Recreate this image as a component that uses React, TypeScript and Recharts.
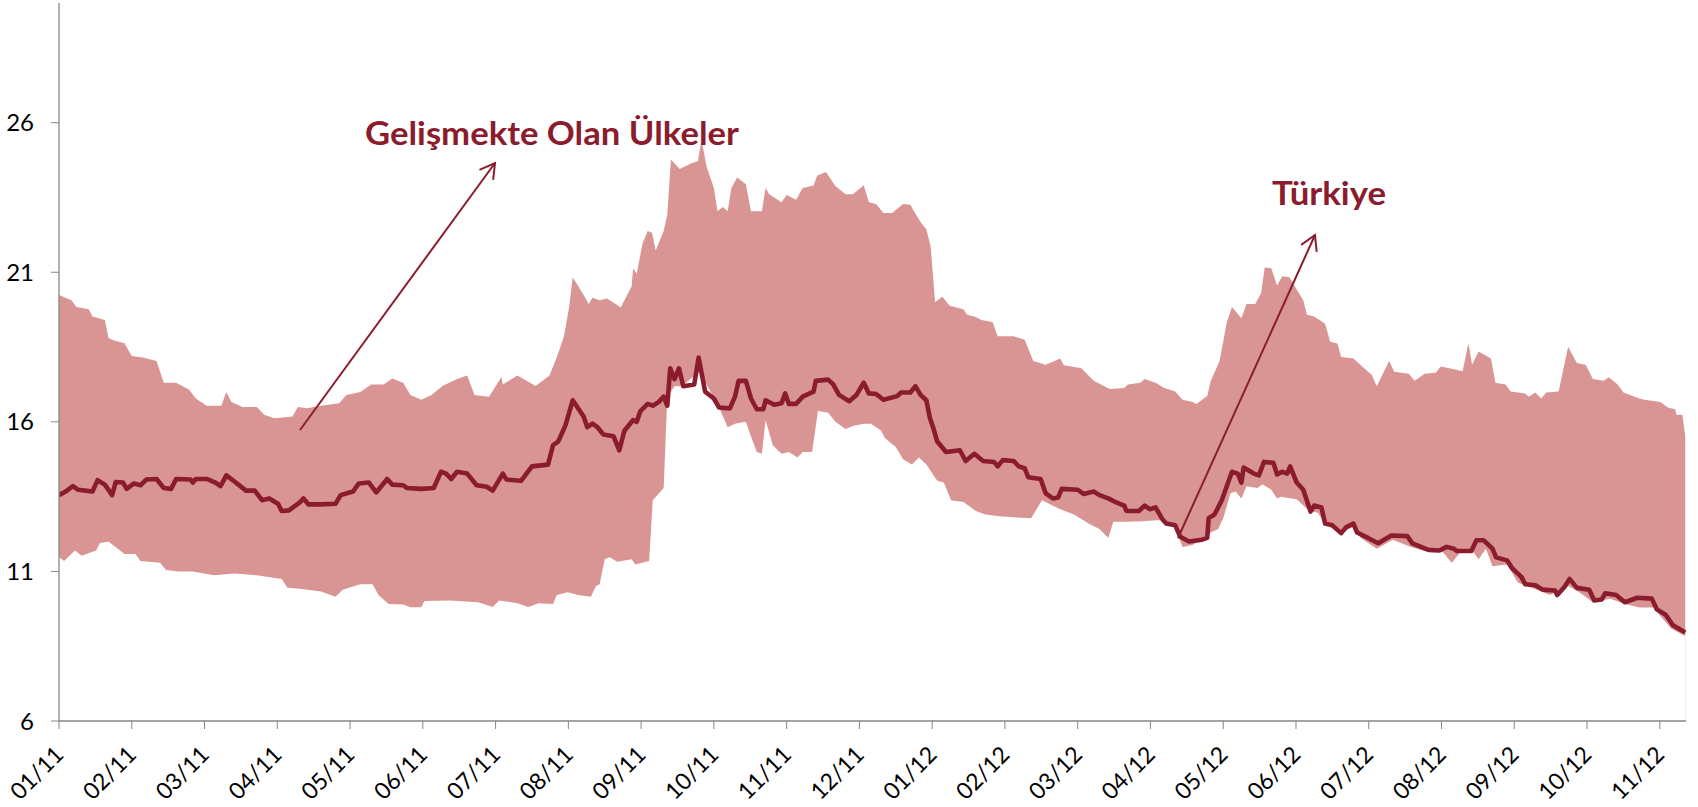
import React from 'react';
import { ComposedChart, Area, Line, XAxis, YAxis } from 'recharts';

const monthLabels = ['01/11','02/11','03/11','04/11','05/11','06/11','07/11','08/11','09/11','10/11','11/11','12/11','01/12','02/12','03/12','04/12','05/12','06/12','07/12','08/12','09/12','10/12','11/12'];
const monthTicks = monthLabels.map((_, i) => i);
const yTicks = [6, 11, 16, 21, 26];

// x = position in months since 01/11, value = yield (%)
const upperEdge: [number, number][] = [
  [0.00,20.24],[0.17,20.06],[0.24,19.84],[0.41,19.76],[0.46,19.52],[0.63,19.40],[0.68,18.80],[0.76,18.72],[0.90,18.63],[1.00,18.20],
  [1.15,18.15],[1.34,18.03],[1.44,17.31],[1.61,17.31],[1.79,17.07],[1.88,16.78],[2.03,16.54],[2.23,16.54],[2.30,17.00],[2.37,16.66],
  [2.52,16.50],[2.72,16.50],[2.82,16.24],[2.96,16.12],[3.21,16.18],[3.28,16.50],[3.41,16.45],[3.60,16.54],[3.85,16.62],[3.95,16.90],
  [4.14,17.00],[4.29,17.25],[4.46,17.25],[4.58,17.45],[4.73,17.31],[4.83,16.90],[4.98,16.74],[5.12,16.90],[5.27,17.20],[5.47,17.43],
  [5.61,17.55],[5.71,16.90],[5.91,16.84],[6.08,17.50],[6.10,17.25],[6.30,17.55],[6.55,17.20],[6.74,17.55],[6.84,18.15],[6.94,18.86],
  [7.01,19.82],[7.06,20.83],[7.21,20.24],[7.28,19.94],[7.33,20.15],[7.43,20.06],[7.53,20.12],[7.65,19.94],[7.72,19.82],[7.87,20.53],
  [7.89,21.13],[7.94,20.95],[8.02,21.97],[8.09,22.38],[8.15,22.32],[8.20,21.73],[8.31,22.38],[8.36,22.92],[8.41,24.77],[8.53,24.45],
  [8.70,24.65],[8.78,24.71],[8.83,25.43],[8.90,24.53],[9.00,23.82],[9.05,23.04],[9.12,23.18],[9.19,23.04],[9.24,23.82],[9.32,24.17],
  [9.44,23.94],[9.51,23.04],[9.66,23.04],[9.71,23.82],[9.76,23.61],[9.93,23.34],[10.00,23.58],[10.13,23.42],[10.22,23.82],[10.37,23.90],
  [10.42,24.23],[10.54,24.35],[10.67,23.88],[10.81,23.61],[10.91,23.61],[11.06,23.91],[11.13,23.34],[11.23,23.28],[11.33,22.98],[11.45,22.98],
  [11.60,23.28],[11.70,23.26],[11.75,23.04],[11.84,22.68],[11.92,22.44],[11.98,21.85],[12.04,20.00],[12.14,20.18],[12.24,19.88],[12.43,19.76],
  [12.48,19.58],[12.58,19.52],[12.68,19.40],[12.83,19.34],[12.90,18.86],[13.12,18.86],[13.27,18.74],[13.39,18.03],[13.56,17.91],[13.76,18.12],
  [13.81,17.89],[14.05,17.79],[14.22,17.37],[14.44,17.10],[14.64,17.13],[14.69,17.25],[14.86,17.31],[14.92,17.43],[15.07,17.31],[15.19,17.13],
  [15.34,17.01],[15.44,16.74],[15.58,16.66],[15.63,16.60],[15.78,16.86],[15.83,17.37],[15.95,18.03],[16.05,19.34],[16.12,19.84],[16.25,19.46],
  [16.32,19.94],[16.44,19.94],[16.52,20.30],[16.57,21.16],[16.66,21.13],[16.74,20.56],[16.81,20.87],[16.91,20.83],[17.01,20.42],[17.10,20.06],
  [17.15,19.58],[17.25,19.52],[17.40,19.28],[17.47,18.68],[17.57,18.62],[17.62,18.17],[17.79,18.12],[17.91,17.85],[18.04,17.57],[18.11,17.19],
  [18.28,18.03],[18.35,17.67],[18.55,17.61],[18.63,17.37],[18.77,17.61],[18.92,17.64],[18.99,17.85],[19.17,17.76],[19.29,17.69],[19.37,18.63],
  [19.42,17.91],[19.51,18.35],[19.68,18.12],[19.74,17.31],[19.88,17.25],[19.95,17.01],[20.15,16.95],[20.20,16.84],[20.29,16.98],[20.37,16.78],
  [20.44,16.98],[20.61,17.01],[20.74,18.51],[20.86,17.97],[20.98,17.91],[21.08,17.43],[21.23,17.37],[21.30,17.49],[21.42,17.25],[21.50,16.98],
  [21.72,16.78],[21.79,16.74],[22.01,16.66],[22.11,16.48],[22.21,16.42],[22.23,16.24],[22.31,16.24],[22.35,15.52]
];

const lowerEdge: [number, number][] = [
  [0.00,11.47],[0.07,11.35],[0.22,11.70],[0.31,11.52],[0.51,11.70],[0.56,11.94],[0.68,12.00],[0.90,11.58],[1.05,11.58],[1.12,11.35],
  [1.39,11.29],[1.47,11.05],[1.64,11.00],[1.84,11.00],[2.13,10.87],[2.42,10.93],[2.72,10.87],[3.06,10.75],[3.14,10.45],[3.31,10.42],
  [3.60,10.33],[3.80,10.15],[3.90,10.39],[4.14,10.57],[4.31,10.57],[4.39,10.21],[4.53,9.91],[4.73,9.89],[4.83,9.80],[4.98,9.80],
  [5.02,10.01],[5.37,10.03],[5.76,9.97],[5.96,9.81],[6.05,10.03],[6.30,9.94],[6.45,9.81],[6.59,9.94],[6.79,9.91],[6.84,10.21],
  [6.99,10.30],[7.13,10.21],[7.31,10.15],[7.38,10.51],[7.43,10.57],[7.50,11.41],[7.57,11.47],[7.67,11.32],[7.87,11.41],[7.92,11.23],
  [8.11,11.35],[8.16,13.38],[8.31,13.79],[8.36,16.84],[8.46,17.19],[8.56,17.19],[8.80,17.67],[9.05,16.60],[9.19,15.82],[9.29,15.94],
  [9.44,16.00],[9.49,15.64],[9.59,14.99],[9.66,14.93],[9.71,16.06],[9.81,15.22],[9.93,14.93],[10.03,14.99],[10.15,14.81],[10.22,14.99],
  [10.35,14.99],[10.43,16.36],[10.57,16.30],[10.67,16.00],[10.81,15.76],[10.91,15.86],[11.06,15.94],[11.16,15.94],[11.30,15.70],[11.35,15.46],
  [11.50,15.16],[11.60,14.75],[11.72,14.57],[11.82,14.81],[11.92,14.57],[12.07,14.03],[12.16,13.97],[12.26,13.38],[12.43,13.32],[12.60,13.02],
  [12.73,12.90],[12.92,12.84],[13.12,12.81],[13.36,12.78],[13.51,13.38],[13.76,13.08],[13.95,12.90],[14.15,12.60],[14.30,12.42],[14.42,12.12],
  [14.49,12.66],[14.69,12.66],[14.89,12.68],[15.14,12.72],[15.34,12.48],[15.44,11.82],[15.58,11.88],[15.78,12.24],[15.93,12.42],[16.00,12.78],
  [16.10,13.61],[16.17,13.67],[16.25,13.44],[16.32,13.85],[16.47,13.79],[16.54,13.91],[16.66,13.73],[16.74,13.44],[16.79,13.50],[17.01,13.41],
  [17.13,13.14],[17.20,13.02],[17.30,12.96],[17.40,12.60],[17.59,12.30],[17.79,12.48],[17.89,12.12],[18.11,11.76],[18.33,12.06],[18.58,11.82],
  [18.77,11.68],[19.02,11.64],[19.14,11.29],[19.26,11.64],[19.44,11.64],[19.51,11.41],[19.61,11.76],[19.70,11.17],[19.90,11.23],[20.05,10.63],
  [20.24,10.45],[20.49,10.21],[20.74,10.51],[20.88,10.33],[21.08,9.97],[21.32,10.09],[21.52,9.91],[21.72,9.79],[21.91,9.79],[22.01,9.50],
  [22.16,9.08],[22.35,8.84]
];

const turkey: [number, number][] = [
  [0.00,13.55],[0.09,13.67],[0.19,13.85],[0.26,13.73],[0.46,13.67],[0.53,14.05],[0.63,13.90],[0.73,13.55],[0.78,13.99],[0.88,13.97],
  [0.93,13.76],[1.03,13.94],[1.12,13.88],[1.20,14.07],[1.34,14.09],[1.44,13.79],[1.54,13.76],[1.61,14.09],[1.81,14.07],[1.84,13.97],
  [1.88,14.09],[2.03,14.09],[2.15,13.97],[2.22,13.85],[2.30,14.21],[2.42,13.99],[2.57,13.70],[2.69,13.70],[2.79,13.38],[2.89,13.44],
  [3.01,13.26],[3.06,13.02],[3.16,13.04],[3.31,13.31],[3.36,13.44],[3.43,13.24],[3.60,13.24],[3.80,13.26],[3.87,13.55],[4.04,13.67],
  [4.12,13.94],[4.26,13.97],[4.36,13.64],[4.51,14.09],[4.58,13.90],[4.73,13.88],[4.78,13.79],[4.98,13.76],[5.15,13.79],[5.25,14.33],
  [5.32,14.27],[5.39,14.09],[5.47,14.33],[5.61,14.27],[5.74,13.88],[5.88,13.83],[5.96,13.70],[6.10,14.27],[6.15,14.07],[6.35,14.03],
  [6.50,14.51],[6.72,14.57],[6.79,15.22],[6.86,15.34],[6.96,15.88],[7.06,16.72],[7.21,16.18],[7.26,15.82],[7.33,15.94],[7.40,15.82],
  [7.48,15.58],[7.62,15.52],[7.70,15.05],[7.77,15.70],[7.89,16.06],[7.94,16.00],[7.99,16.36],[8.09,16.60],[8.16,16.54],[8.24,16.66],
  [8.31,16.84],[8.36,16.54],[8.40,17.79],[8.46,17.43],[8.52,17.79],[8.58,17.19],[8.73,17.25],[8.79,18.15],[8.88,17.01],[9.00,16.78],
  [9.07,16.48],[9.22,16.45],[9.29,16.84],[9.34,17.37],[9.44,17.37],[9.51,16.78],[9.59,16.42],[9.68,16.42],[9.71,16.72],[9.83,16.57],
  [9.93,16.62],[9.98,16.95],[10.03,16.60],[10.13,16.60],[10.22,16.84],[10.37,17.01],[10.40,17.37],[10.57,17.41],[10.64,17.25],[10.72,16.90],
  [10.86,16.69],[10.96,16.90],[11.06,17.31],[11.13,16.95],[11.23,16.93],[11.33,16.74],[11.52,16.86],[11.57,16.98],[11.70,16.98],[11.77,17.19],
  [11.84,16.90],[11.92,16.72],[11.97,16.12],[12.02,15.76],[12.07,15.34],[12.19,14.99],[12.38,15.05],[12.46,14.69],[12.58,14.93],[12.70,14.69],
  [12.85,14.66],[12.90,14.51],[12.97,14.72],[13.12,14.69],[13.19,14.51],[13.27,14.45],[13.32,14.15],[13.49,14.09],[13.56,13.61],[13.66,13.44],
  [13.73,13.47],[13.78,13.76],[14.00,13.73],[14.08,13.59],[14.22,13.67],[14.30,13.55],[14.42,13.44],[14.52,13.32],[14.64,13.20],[14.67,13.02],
  [14.84,13.02],[14.92,13.20],[14.99,13.08],[15.07,13.14],[15.17,12.72],[15.22,12.60],[15.34,12.54],[15.41,12.16],[15.53,12.00],[15.71,12.06],
  [15.78,12.12],[15.80,12.78],[15.88,12.90],[15.98,13.38],[16.12,14.33],[16.20,14.27],[16.25,13.97],[16.28,14.47],[16.42,14.27],[16.49,14.21],
  [16.56,14.66],[16.69,14.63],[16.74,14.24],[16.81,14.33],[16.88,14.27],[16.92,14.51],[17.01,13.97],[17.10,13.73],[17.20,13.00],[17.25,13.20],
  [17.35,13.14],[17.40,12.60],[17.50,12.54],[17.62,12.28],[17.69,12.48],[17.79,12.60],[17.84,12.30],[17.99,12.12],[18.13,11.94],[18.31,12.20],
  [18.53,12.18],[18.60,11.94],[18.82,11.72],[18.97,11.70],[19.07,11.82],[19.17,11.76],[19.21,11.68],[19.41,11.68],[19.48,12.04],[19.58,12.04],
  [19.70,11.76],[19.75,11.47],[19.90,11.37],[19.97,11.11],[20.10,10.81],[20.15,10.57],[20.29,10.54],[20.39,10.39],[20.56,10.36],[20.59,10.21],
  [20.69,10.48],[20.76,10.75],[20.86,10.45],[21.03,10.39],[21.10,10.03],[21.20,10.06],[21.25,10.27],[21.40,10.21],[21.52,9.97],[21.69,10.12],
  [21.89,10.09],[21.96,9.73],[22.08,9.55],[22.18,9.20],[22.35,8.96]
];

const annotations = [
  { text: 'Gelişmekte Olan Ülkeler', x: 365, y: 145, len: 374, from: [300, 430], to: [495, 163] },
  { text: 'Türkiye', x: 1272, y: 205, len: 114, from: [1178, 538], to: [1315, 235] },
];

const toRows = (arr: [number, number][]) => arr.map(([x, v]) => ({ x, v }));
const upperData = toRows(upperEdge);
const lowerData = toRows(lowerEdge);
const turkeyData = toRows(turkey);

const BAND = '#D99594';
const DARK = '#8A1C2E';
const AXIS = '#868686';
const FONT = 'Lato, "Open Sans", sans-serif';

const XTick = (props: any) => {
  const { x, y, payload } = props;
  const ax = x + 6;
  const ay = y + 27;
  return (
    <text x={ax} y={ay} transform={`rotate(-45 ${ax} ${ay})`} textAnchor="end" fontFamily={FONT} fontSize={23} fill="#000">
      {monthLabels[payload.value]}
    </text>
  );
};

function arrowHead(from: number[], to: number[]) {
  const dx = to[0] - from[0];
  const dy = to[1] - from[1];
  const L = Math.hypot(dx, dy);
  const ux = -dx / L, uy = -dy / L;
  const a = (30 * Math.PI) / 180;
  const len = 17;
  const r = (c: number, s: number) => [to[0] + len * (ux * c - uy * s), to[1] + len * (ux * s + uy * c)];
  const p1 = r(Math.cos(a), Math.sin(a));
  const p2 = r(Math.cos(-a), Math.sin(-a));
  return `M${p1[0]},${p1[1]} L${to[0]},${to[1]} L${p2[0]},${p2[1]}`;
}

export default function App() {
  return (
    <div style={{ position: 'absolute', left: 0, top: 0, width: 1698, height: 807, background: '#fff' }}>
      <ComposedChart width={1698} height={807} margin={{ top: 3, right: 12, bottom: 0, left: 0 }}>
        <Area data={upperData} dataKey="v" type="linear" baseValue={6} fill={BAND} fillOpacity={1} stroke="none" isAnimationActive={false} dot={false} activeDot={false} />
        <Area data={lowerData} dataKey="v" type="linear" baseValue={6} fill="#ffffff" fillOpacity={1} stroke="none" isAnimationActive={false} dot={false} activeDot={false} />
        <Line data={turkeyData} dataKey="v" type="linear" stroke={DARK} strokeWidth={4.6} strokeLinejoin="round" dot={false} activeDot={false} isAnimationActive={false} />
        <XAxis dataKey="x" type="number" domain={[0, 22.36]} ticks={monthTicks} interval={0} allowDataOverflow height={86}
          axisLine={{ stroke: AXIS, strokeWidth: 1.3 }} tickLine={{ stroke: AXIS }} tickSize={8} tickMargin={0} tick={<XTick />} />
        <YAxis type="number" domain={[6, 30]} ticks={yTicks} interval={0} allowDataOverflow width={59}
          axisLine={{ stroke: AXIS, strokeWidth: 1.3 }} tickLine={{ stroke: AXIS }} tickSize={8} tickMargin={17}
          tick={{ fontFamily: FONT, fontSize: 24, fill: '#000' }} />
      </ComposedChart>
      <svg width={1698} height={807} style={{ position: 'absolute', left: 0, top: 0, pointerEvents: 'none' }}>
        {annotations.map((a) => (
          <g key={a.text}>
            <line x1={a.from[0]} y1={a.from[1]} x2={a.to[0]} y2={a.to[1]} stroke={DARK} strokeWidth={2} />
            <path d={arrowHead(a.from, a.to)} fill="none" stroke={DARK} strokeWidth={2} />
            <text x={a.x} y={a.y} fontFamily={FONT} fontWeight={700} fontSize={32} fill={DARK} textLength={a.len} lengthAdjust="spacingAndGlyphs">
              {a.text}
            </text>
          </g>
        ))}
      </svg>
    </div>
  );
}
